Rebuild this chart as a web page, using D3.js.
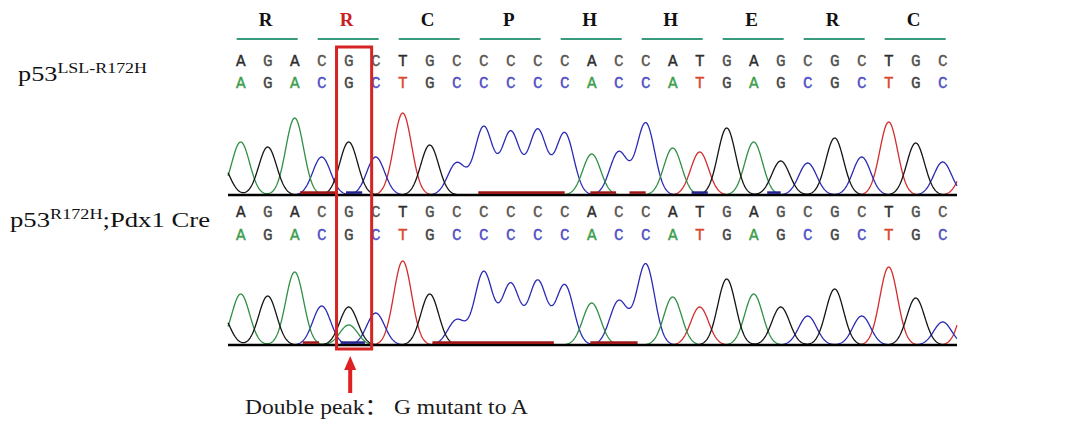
<!DOCTYPE html>
<html>
<head>
<meta charset="utf-8">
<script src="https://cdn.jsdelivr.net/npm/d3@7"></script>
<style>
html,body{margin:0;padding:0;background:#fff;}
svg{display:block;}
</style>
</head>
<body>
<svg id="chart" width="1080" height="424"></svg>
<script>
// ---------- data ----------
const bases = "AGACGCTGCCCCCACCATGAGCGCTGC".split("");
const codons = ["R","R","C","P","H","H","E","R","C"];
const mutantCodon = 1;
const mutantBase = 4;
// peak heights of the called base, one per base (signal units)
const topHeights = [53,48,77,38,53,38,82,50,32,68,63,65,62,41,43,72,47,43,67,53,34,32,57,38,73,52,33];
const bottomHeights = [51,49,73,39,38,32,84,51,25,73,61,64,60,42,44,81,48,38,66,51,38,29,56,29,78,47,23];
// extra peaks (channel, base position, height)
const topExtra = [{ch:"G",pos:-0.75,h:32},{ch:"T",pos:27,h:38}];
const bottomExtra = [{ch:"G",pos:-0.75,h:32},{ch:"A",pos:4,h:20},{ch:"T",pos:27,h:55}];
// low-level signal segments along the baseline (channel, from base, to base)
const topNoise = [{ch:"T",from:2.2,to:3.5},{ch:"C",from:3.9,to:4.5},{ch:"T",from:8.8,to:12.0},{ch:"T",from:12.95,to:13.9},{ch:"T",from:14.4,to:15.0},{ch:"C",from:16.7,to:17.3},{ch:"C",from:19.5,to:20.0}];
const bottomNoise = [{ch:"T",from:2.3,to:2.9},{ch:"C",from:3.7,to:4.6},{ch:"T",from:7.1,to:11.6},{ch:"T",from:12.95,to:14.7}];
const sampleLabels = [
  {main:"p53", sup:"LSL-R172H", rest:""},
  {main:"p53", sup:"R172H", rest:";Pdx1 Cre"}
];
const noteText = "Double peak\uFF1A G mutant to A";

// ---------- styles ----------
const traceColors = {A:"#2f8f45", C:"#2a2ab5", G:"#141414", T:"#d42c2c"};
const letterColors = {A:"#3c9e4a", C:"#4e4ec4", G:"#454545", T:"#d8462c"};
const plainLetter = {A:"#2e2e2e", C:"#5a5550", G:"#505050", T:"#2e2e2e"};
const noiseColors = {T:"#9c1818", C:"#24248a", A:"#2f7a40", G:"#222"};
const sigma = 0.33;

const svg = d3.select("#chart");
const x = d3.scaleLinear().domain([0, bases.length - 1]).range([240.7, 942.7]);
const xMin = 228, xMax = 957;

// ---------- codon header ----------
const codonG = svg.append("g");
codons.forEach((c, i) => {
  const mid = x(i * 3 + 1);
  codonG.append("text")
    .attr("x", mid - 2).attr("y", 26)
    .attr("text-anchor", "middle")
    .attr("font-family", "Liberation Serif, Times New Roman, serif")
    .attr("font-weight", "bold").attr("font-size", 19)
    .attr("fill", i === mutantCodon ? "#c8201e" : "#111")
    .text(c);
  codonG.append("line")
    .attr("x1", x(i * 3) - 4).attr("x2", x(i * 3 + 2) + 3)
    .attr("y1", 39).attr("y2", 39)
    .attr("stroke", "#3a9a7e").attr("stroke-width", 2);
});

// ---------- panels ----------
const panels = [
  {heights: topHeights, extra: topExtra, noise: topNoise, row1: 66, row2: 88, base: 195, labelY: 80.5, labelX: 18, labelW: 129},
  {heights: bottomHeights, extra: bottomExtra, noise: bottomNoise, row1: 217, row2: 239.5, base: 345, labelY: 227, labelX: 10, labelW: 200}
];

panels.forEach((p, pi) => {
  const g = svg.append("g");
  // base letters
  bases.forEach((b, i) => {
    g.append("text").attr("x", x(i)).attr("y", p.row1)
      .attr("text-anchor", "middle")
      .attr("font-family", "Liberation Mono, DejaVu Sans Mono, monospace")
      .attr("font-size", 16).attr("font-weight", "normal")
      .attr("stroke", plainLetter[b]).attr("stroke-width", 0.35)
      .attr("fill", plainLetter[b]).text(b);
    g.append("text").attr("x", x(i)).attr("y", p.row2)
      .attr("text-anchor", "middle")
      .attr("font-family", "Liberation Mono, DejaVu Sans Mono, monospace")
      .attr("font-size", 16).attr("font-weight", "normal")
      .attr("stroke", letterColors[b]).attr("stroke-width", 0.35)
      .attr("fill", letterColors[b]).text(b);
  });

  // traces
  const y = d3.scaleLinear().domain([0, 100]).range([p.base, p.base - 100]);
  const peaks = { A: [], C: [], G: [], T: [] };
  p.heights.forEach((h, i) => peaks[bases[i]].push({pos: i, h}));
  p.extra.forEach(e => peaks[e.ch].push({pos: e.pos, h: e.h}));
  const xs = d3.range(xMin, xMax + 0.01, 0.5);
  ["T", "C", "A", "G"].forEach(ch => {
    const pts = xs.map(px => {
      const t = x.invert(px);
      let v = 0;
      peaks[ch].forEach(pk => { v += pk.h * Math.exp(-((t - pk.pos) ** 2) / (2 * sigma * sigma)); });
      return [px, v];
    });
    g.append("path")
      .attr("d", d3.line().x(d => d[0]).y(d => y(d[1]))(pts))
      .attr("fill", "none").attr("stroke", traceColors[ch])
      .attr("stroke-width", 1.3).attr("stroke-linejoin", "round");
  });

  // baseline
  g.append("line").attr("x1", xMin).attr("x2", xMax)
    .attr("y1", p.base).attr("y2", p.base)
    .attr("stroke", "#000").attr("stroke-width", 2.6);
  // low-level noise bars
  p.noise.forEach(n => {
    g.append("line").attr("x1", x(n.from)).attr("x2", x(n.to))
      .attr("y1", p.base - 2.4).attr("y2", p.base - 2.4)
      .attr("stroke", noiseColors[n.ch]).attr("stroke-width", 2.6);
  });

  // sample label
  const lab = sampleLabels[pi];
  const t = svg.append("text")
    .attr("x", p.labelX).attr("y", p.labelY)
    .attr("font-family", "Liberation Serif, Times New Roman, serif")
    .attr("font-size", 22).attr("fill", "#111")
    .attr("textLength", p.labelW).attr("lengthAdjust", "spacingAndGlyphs");
  t.append("tspan").text(lab.main);
  t.append("tspan").attr("font-size", 15).attr("dy", -8).text(lab.sup);
  if (lab.rest) t.append("tspan").attr("dy", 8).text(lab.rest);
});

// ---------- highlight box ----------
svg.append("rect")
  .attr("x", x(mutantBase - 0.45)).attr("y", 47)
  .attr("width", x(mutantBase + 0.85) - x(mutantBase - 0.45)).attr("height", 302)
  .attr("fill", "none").attr("stroke", "#d42424").attr("stroke-width", 3);

// ---------- arrow ----------
const ax = x(mutantBase) + 1.5;
svg.append("line").attr("x1", ax).attr("x2", ax).attr("y1", 366).attr("y2", 393)
  .attr("stroke", "#e02020").attr("stroke-width", 4);
svg.append("path")
  .attr("d", `M${ax - 6},370 L${ax},356 L${ax + 6},370 Z`)
  .attr("fill", "#e02020");

// ---------- note ----------
svg.append("text")
  .attr("x", 245).attr("y", 414)
  .attr("font-family", "Liberation Serif, Noto Sans CJK SC, serif")
  .attr("font-size", 22).attr("fill", "#1a1a1a")
  .attr("textLength", 283).attr("lengthAdjust", "spacingAndGlyphs")
  .text(noteText);
</script>
</body>
</html>
